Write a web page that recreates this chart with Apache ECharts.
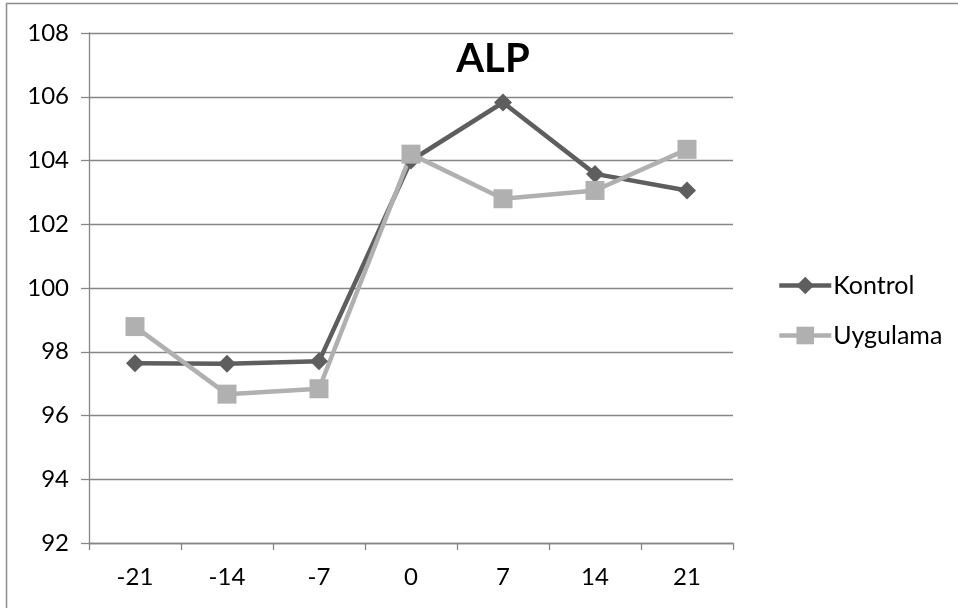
<!DOCTYPE html>
<html>
<head>
<meta charset="utf-8">
<script src="https://cdn.jsdelivr.net/npm/echarts@6/dist/echarts.min.js"></script>
<style>
html,body{margin:0;padding:0;background:#fff;}
#c{width:958px;height:608px;}
</style>
</head>
<body>
<div id="c"></div>
<script>
var titleText = 'ALP';
var categories = ['-21', '-14', '-7', '0', '7', '14', '21'];
var kontrol = [97.64, 97.62, 97.7, 104.0, 105.82, 103.58, 103.06];
var uygulama = [98.79, 96.67, 96.84, 104.2, 102.8, 103.06, 104.35];
var yTicks = { min: 92, max: 108, interval: 2 };

var FONT = 'Lato, "Open Sans", "Liberation Sans", sans-serif';
var chart = echarts.init(document.getElementById('c'));
chart.setOption({
  animation: false,
  backgroundColor: '#ffffff',
  title: {
    text: titleText,
    left: 488,
    top: 34,
    textAlign: 'center',
    textStyle: { fontFamily: FONT, fontSize: 40, fontWeight: 'bold', color: '#000' }
  },
  legend: {
    orient: 'vertical',
    left: 772,
    top: 268,
    itemWidth: 52,
    itemHeight: 22,
    itemGap: 25,
    lineStyle: { width: 4.5 },
    textStyle: { fontFamily: FONT, fontSize: 25, color: '#000', padding: [0, 0, 0, -3] },
    data: ['Kontrol', 'Uygulama']
  },
  graphic: [
    { type: 'polyline', shape: { points: [[6.5, 608], [6.5, 3.5], [958, 3.5]] }, style: { stroke: '#8c8c8c', lineWidth: 1.5, fill: null } }
  ],
  grid: { left: 89, right: 225, top: 33, bottom: 65, containLabel: false },
  xAxis: {
    type: 'category',
    data: categories,
    boundaryGap: true,
    axisLine: { lineStyle: { color: '#868686', width: 1.3 } },
    axisTick: { show: true, length: 7, lineStyle: { color: '#868686', width: 1.3 } },
    axisLabel: { fontFamily: FONT, fontSize: 24, color: '#000', margin: 22 }
  },
  yAxis: {
    type: 'value',
    min: yTicks.min,
    max: yTicks.max,
    interval: yTicks.interval,
    axisLine: { show: true, lineStyle: { color: '#868686', width: 1.3 } },
    axisTick: { show: true, length: 8, lineStyle: { color: '#868686', width: 1.3 } },
    splitLine: { show: true, lineStyle: { color: '#868686', width: 1.3 } },
    axisLabel: { fontFamily: FONT, fontSize: 24, color: '#000', margin: 20 }
  },
  series: [
    {
      name: 'Kontrol',
      type: 'line',
      data: kontrol,
      symbol: 'diamond',
      symbolSize: 18,
      itemStyle: { color: '#5e5e5e' },
      lineStyle: { color: '#5e5e5e', width: 4.5 }
    },
    {
      name: 'Uygulama',
      type: 'line',
      data: uygulama,
      symbol: 'rect',
      symbolSize: 19,
      itemStyle: { color: '#b0b0b0' },
      lineStyle: { color: '#b0b0b0', width: 4.5 }
    }
  ]
});
</script>
</body>
</html>
